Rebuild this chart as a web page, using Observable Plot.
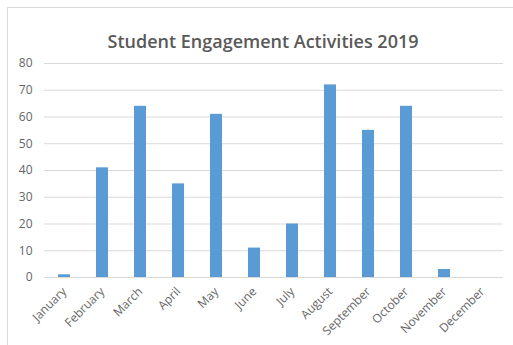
<!DOCTYPE html>
<html><head><meta charset="utf-8">
<script src="https://cdn.jsdelivr.net/npm/d3@7"></script>
<script src="https://cdn.jsdelivr.net/npm/@observablehq/plot@0.6"></script>
<style>
html,body{margin:0;padding:0;background:#fff;}
#frame{position:absolute;left:7px;top:7px;width:520px;height:360px;border:1px solid #d9d9d9;box-sizing:border-box;}
#chart{position:absolute;left:0;top:0;}
</style></head>
<body>
<div id="frame"></div>
<div id="chart"></div>
<script>
const months = ["January","February","March","April","May","June","July","August","September","October","November","December"];
const values = [1,41,64,35,61,11,20,72,55,64,3,0];
const yTicks = [0,10,20,30,40,50,60,70,80];
const title = "Student Engagement Activities 2019";

const data = months.map((m,i)=>({month:m, value:values[i]}));
const font = "'Open Sans', sans-serif";

const chart = Plot.plot({
  width: 513, height: 345,
  marginLeft: 44, marginRight: 10, marginTop: 63, marginBottom: 68,
  style: {fontFamily: font, fontSize: "12px", color: "#666666", background: "transparent"},
  x: {domain: months, paddingInner: 0.68, paddingOuter: 0.34, label: null, tickSize: 0, tickRotate: -45, tickPadding: 12},
  y: {domain: [0,80], ticks: yTicks, label: null, tickSize: 0, tickPadding: 12},
  marks: [
    Plot.gridY(yTicks, {stroke: "#d9d9d9", strokeOpacity: 1}),
    Plot.barY(data, {x: "month", y: "value", fill: "#5b9bd5"}),
    Plot.text([title], {frameAnchor: "top", dy: -28, dx: -11, text: d=>d, fontSize: 18, fill: "#595959", fontWeight: 600})
  ]
});
document.getElementById("chart").appendChild(chart);
</script>
</body></html>
